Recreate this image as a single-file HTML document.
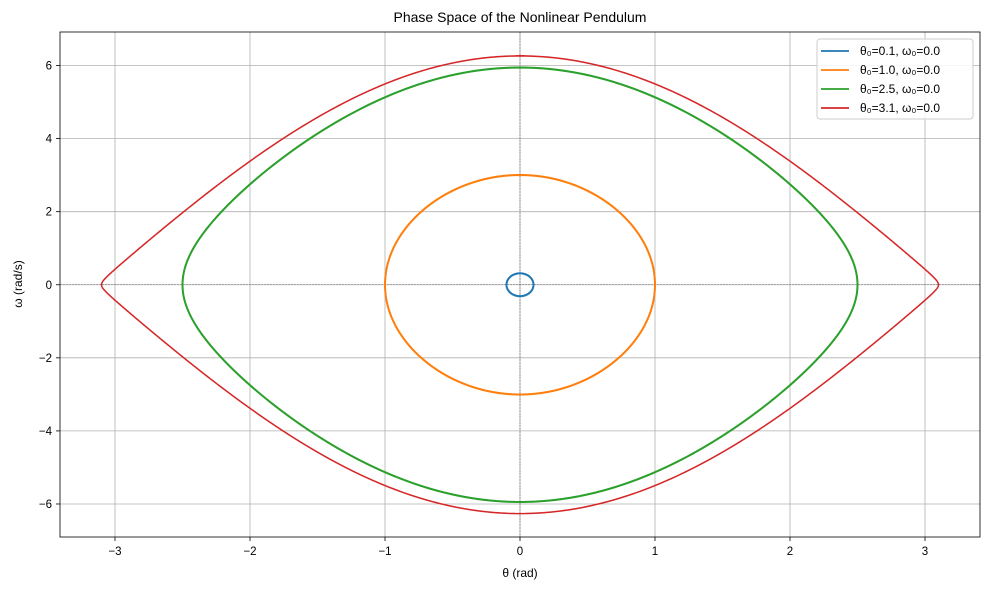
<!DOCTYPE html>
<html><head><meta charset="utf-8"><style>
body{margin:0;background:#fff;overflow:hidden;}
svg{font-family:"Liberation Sans","DejaVu Sans",sans-serif;display:block;}
</style></head><body>
<svg id="chart" width="989" height="590" xmlns="http://www.w3.org/2000/svg">
<defs><clipPath id="clip"><rect x="60" y="32" width="920" height="505"/></clipPath></defs>
<rect width="989" height="590" fill="#fff"/>
<text x="520" y="22" font-size="14" text-anchor="middle">Phase Space of the Nonlinear Pendulum</text>
<g id="grid"></g>
<g id="ticks"></g>
<g id="series" clip-path="url(#clip)"></g>
<rect x="60" y="32" width="920" height="505" fill="none" stroke="#000" stroke-width="0.8"/>
<text x="520" y="577" font-size="12" text-anchor="middle">θ (rad)</text>
<text x="22" y="284" font-size="12" text-anchor="middle" transform="rotate(-90 22 284)">ω (rad/s)</text>
<g id="legend"></g>
</svg>
<script>
const xTicks=[-3,-2,-1,0,1,2,3];
const yTicks=[-6,-4,-2,0,2,4,6];
const theta0=[0.1,1.0,2.5,3.1];
const omega0=[0.0,0.0,0.0,0.0];
const labels=["θ₀=0.1, ω₀=0.0","θ₀=1.0, ω₀=0.0","θ₀=2.5, ω₀=0.0","θ₀=3.1, ω₀=0.0"];
const colors=["#1f77b4","#ff7f0e","#2ca02c","#d62728"];
const gOverL=9.81;
const X=v=>520+v*135, Y=v=>284.75-v*36.54;
const NS="http://www.w3.org/2000/svg";
function mk(t,a,p){const e=document.createElementNS(NS,t);for(const k in a)e.setAttribute(k,a[k]);p.appendChild(e);return e;}
const grid=document.getElementById('grid'),ticks=document.getElementById('ticks');
xTicks.forEach(v=>{
 const l=mk('line',{x1:X(v),x2:X(v),y1:32,y2:537,stroke:'#b0b0b0','stroke-width':0.8},grid);
 
 
 mk('line',{x1:X(v),x2:X(v),y1:537,y2:541,stroke:'#000','stroke-width':0.8},ticks);
 const t=mk('text',{x:X(v),y:555,'font-size':11.5,'text-anchor':'middle'},ticks);t.textContent=v<0?'−'+(-v):v;
 
 
});
yTicks.forEach(v=>{
 const l=mk('line',{x1:60,x2:980,y1:Y(v),y2:Y(v),stroke:'#b0b0b0','stroke-width':0.8},grid);
 
 
 mk('line',{x1:56,x2:60,y1:Y(v),y2:Y(v),stroke:'#000','stroke-width':0.8},ticks);
 const t=mk('text',{x:52,y:Y(v)+4,'font-size':11.5,'text-anchor':'end'},ticks);t.textContent=v<0?'−'+(-v):v;
 
 
});
mk('line',{x1:60,x2:980,y1:Y(0),y2:Y(0),stroke:'#000','stroke-width':0.5,'stroke-opacity':0.5,'stroke-dasharray':'2,1'},grid);
mk('line',{x1:X(0),x2:X(0),y1:32,y2:537,stroke:'#000','stroke-width':0.5,'stroke-opacity':0.5,'stroke-dasharray':'2,1'},grid);
const series=document.getElementById('series');
function simulate(th,om){
 const f=(a,b)=>[b,-gOverL*Math.sin(a)];
 const dt=0.01,pts=[[th,om]];
 for(let i=0;i<2000;i++){
  const k1=f(th,om),k2=f(th+dt/2*k1[0],om+dt/2*k1[1]),k3=f(th+dt/2*k2[0],om+dt/2*k2[1]),k4=f(th+dt*k3[0],om+dt*k3[1]);
  th+=dt/6*(k1[0]+2*k2[0]+2*k3[0]+k4[0]);om+=dt/6*(k1[1]+2*k2[1]+2*k3[1]+k4[1]);
  pts.push([th,om]);
 }
 return pts;
}
theta0.forEach((t0,i)=>{
 const pts=simulate(t0,omega0[i]);
 const d=pts.map((p,j)=>(j?'L':'M')+X(p[0]).toFixed(2)+' '+Y(p[1]).toFixed(2)).join('');
 const p=mk('path',{d:d,fill:'none',stroke:colors[i],'stroke-width':i==3?1.5:2},series);
 
 
});
const lg=document.getElementById('legend');
mk('rect',{x:817,y:39,width:156,height:80,rx:3,fill:'#fff','fill-opacity':0.85,stroke:'#ccc'},lg);
labels.forEach((s,i)=>{
 const y=51+i*19;
 const l=mk('line',{x1:821,x2:849,y1:y,y2:y,stroke:colors[i],'stroke-width':1.8},lg);
 
 
 const t=mk('text',{x:860,y:y+4,'font-size':12},lg);t.textContent=s;
 
 
});
</script>
</body></html>
